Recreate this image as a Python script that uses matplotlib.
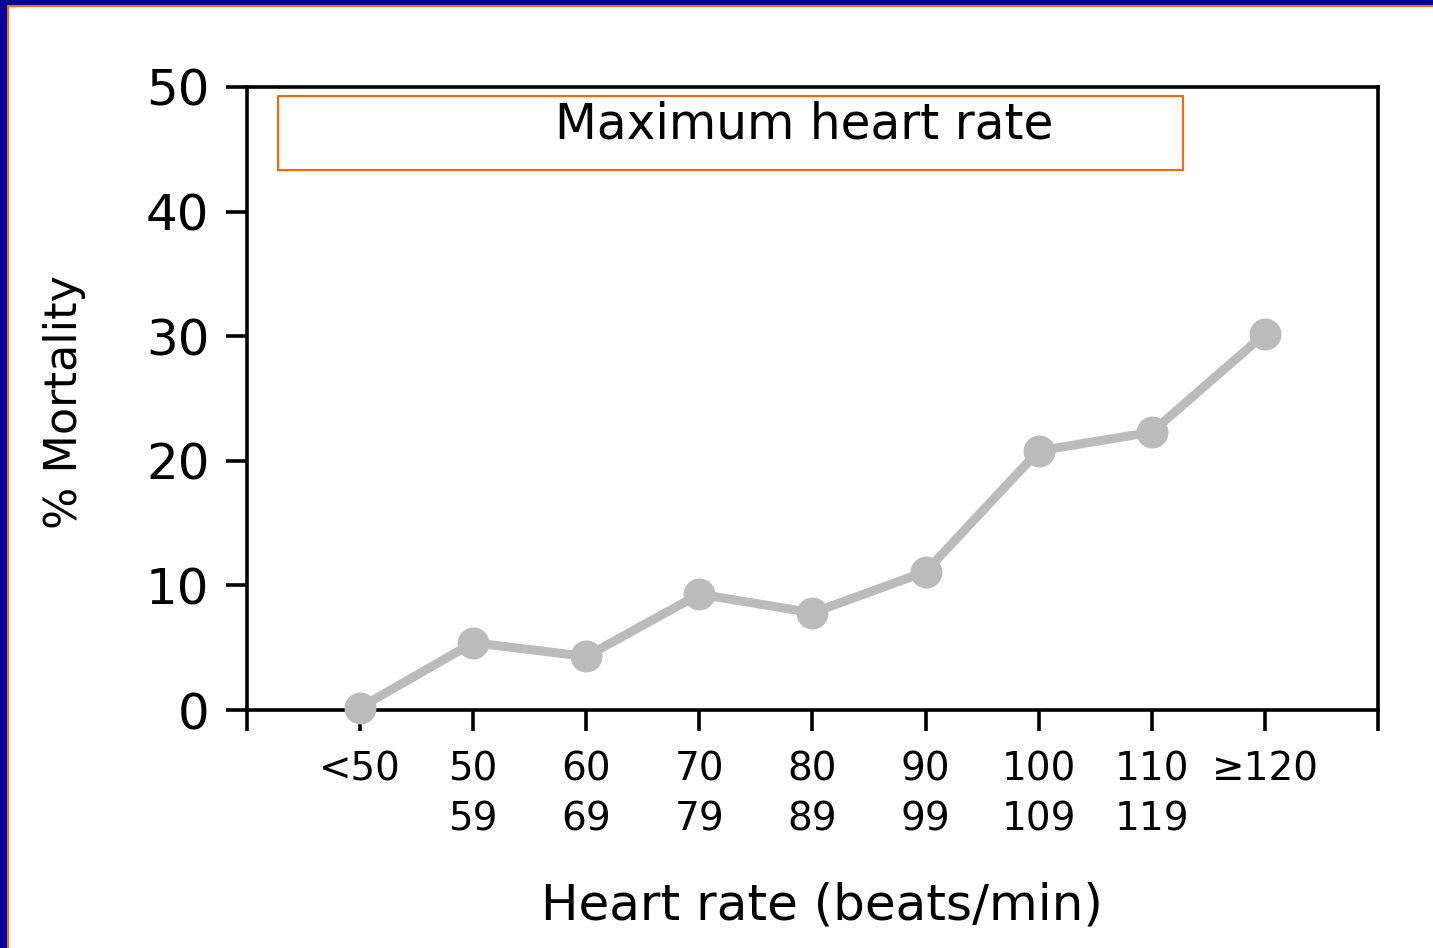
import numpy as np
import matplotlib.pyplot as plt
from matplotlib.patches import Rectangle

# categories of heart rate and the mortality
labels = ['<50', '50\n59', '60\n69', '70\n79', '80\n89', '90\n99', '100\n109', '110\n119', '≥120']
mortality = [0.2, 5.4, 4.3, 9.3, 7.8, 11.1, 20.8, 22.3, 30.2]
yticks = [0, 10, 20, 30, 40, 50]

plt.rcParams['font.family'] = ['DejaVu Sans']

fig = plt.figure(figsize=(14.33, 9.48), dpi=100)
fig.patch.set_facecolor('white')

# slide frame: blue band with thin orange line on left and top
fig.patches.append(Rectangle((0, 0), 7 / 1433, 1, transform=fig.transFigure,
                             facecolor='#000099', edgecolor='none', zorder=0))
fig.patches.append(Rectangle((7 / 1433, 0), 2 / 1433, 1 - 5 / 948, transform=fig.transFigure,
                             facecolor='#FF6600', edgecolor='none', zorder=0))
fig.patches.append(Rectangle((0, 1 - 5 / 948), 1, 5 / 948, transform=fig.transFigure,
                             facecolor='#000099', edgecolor='none', zorder=0))
fig.patches.append(Rectangle((7 / 1433, 1 - 7 / 948), 1, 2 / 948, transform=fig.transFigure,
                             facecolor='#FF6600', edgecolor='none', zorder=0))

ax = fig.add_axes([247 / 1433, 1 - 710 / 948, 1131 / 1433, 623 / 948])
x = np.arange(len(labels))

ax.plot(x, mortality, color='#BBBBBB', linewidth=6.5, marker='o', markersize=23,
        markeredgewidth=0, solid_joinstyle='round', clip_on=False, zorder=3)

ax.set_xlim(-1, len(labels))
ax.set_ylim(0, 50)
ax.set_yticks(yticks)
ax.set_yticklabels([str(v) for v in yticks], fontsize=36)
ax.set_xticks(np.arange(-1, len(labels) + 1))
ax.set_xticklabels([''] + labels + [''], fontsize=28, linespacing=1.4)

for s in ax.spines.values():
    s.set_linewidth(2.6)
ax.tick_params(axis='both', direction='out', length=15, width=2.6)
ax.tick_params(axis='x', pad=14)
ax.tick_params(axis='y', pad=12)

# title box inside the plot
ax.add_patch(Rectangle((0.0274, 0.8668), 0.8002, 0.1188, transform=ax.transAxes,
                       facecolor='none', edgecolor='#FF6600', linewidth=1.5))
ax.text(0.493, 0.9406, 'Maximum heart rate', transform=ax.transAxes,
        ha='center', va='center', fontsize=35)

fig.text(65 / 1433, 1 - 402 / 948, '% Mortality', rotation=90, ha='center', va='center', fontsize=32)
fig.text(822 / 1433, 1 - 905 / 948, 'Heart rate (beats/min)', ha='center', va='center', fontsize=36)

fig.savefig('out.png', dpi=100)
